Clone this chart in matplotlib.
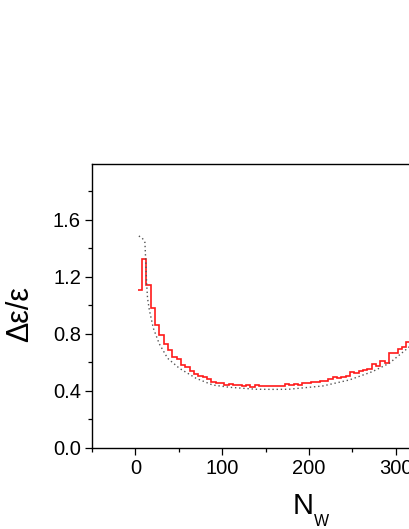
import numpy as np
import matplotlib
matplotlib.use("Agg")
import matplotlib.pyplot as plt
from matplotlib.ticker import MultipleLocator, FormatStrFormatter

plt.rcParams['font.family'] = ['Liberation Sans', 'DejaVu Sans']

# histogram (red step) — bin centers and values
bin_centers = [5, 10, 15, 20, 25, 30, 35, 40, 45, 50, 55, 60, 65, 70, 75, 80,
               85, 90, 95, 100, 105, 110, 115, 120, 125, 130, 135, 140, 145,
               150, 155, 160, 165, 170, 175, 180, 185, 190, 195, 200, 205, 210,
               215, 220, 225, 230, 235, 240, 245, 250, 255, 260, 265, 270, 275,
               280, 285, 290, 295, 300, 305, 310, 315, 320]
hist_vals = [1.107, 1.324, 1.142, 0.978, 0.859, 0.79, 0.73, 0.686, 0.634, 0.62,
             0.58, 0.564, 0.54, 0.517, 0.505, 0.498, 0.482, 0.461, 0.456, 0.452,
             0.44, 0.447, 0.438, 0.442, 0.435, 0.442, 0.424, 0.44, 0.436, 0.436,
             0.433, 0.433, 0.433, 0.436, 0.445, 0.44, 0.445, 0.44, 0.452, 0.455,
             0.463, 0.458, 0.468, 0.47, 0.485, 0.494, 0.49, 0.495, 0.50, 0.529,
             0.525, 0.535, 0.545, 0.55, 0.587, 0.575, 0.61, 0.595, 0.667, 0.665,
             0.69, 0.709, 0.744, 0.75]
bin_width = 5

# theoretical curve (dotted)
curve_x = [4, 8, 11, 12, 13, 14, 16.1, 20.7, 27.6, 37.2, 50.7, 69.9, 89, 108,
           139, 160, 177, 216, 246.5, 273, 292.6, 313.7, 330]
curve_y = [1.485, 1.47, 1.44, 1.30, 1.15, 1.05, 0.966, 0.838, 0.728, 0.627,
           0.557, 0.487, 0.44, 0.424, 0.41, 0.409, 0.41, 0.433, 0.475, 0.533,
           0.592, 0.697, 0.78]

fig = plt.figure(figsize=(4.09, 5.29), dpi=100)
ax = fig.add_axes([92/409, 1 - 447.7/529, 347/409, (447.7 - 164)/529])

edges = np.concatenate([np.array(bin_centers) - bin_width/2,
                        [bin_centers[-1] + bin_width/2]])
ax.stairs(hist_vals, edges, color='#ff1a1a', lw=1.2, baseline=None)
ax.plot(curve_x, curve_y, color='#555555', lw=1.0, ls=(0, (1, 2)))

ax.set_xlim(-50, 350)
ax.set_ylim(0, 1.99)
ax.xaxis.set_major_locator(MultipleLocator(100))
ax.xaxis.set_minor_locator(MultipleLocator(50))
ax.yaxis.set_major_locator(MultipleLocator(0.4))
ax.yaxis.set_minor_locator(MultipleLocator(0.2))
ax.yaxis.set_major_formatter(FormatStrFormatter('%.1f'))
ax.tick_params(which='both', direction='out', labelsize=14.5, top=False, right=False, width=0.9)
ax.tick_params(which='major', length=5, pad=3)
ax.tick_params(which='minor', length=3)
for s in ax.spines.values():
    s.set_linewidth(1.0)

fig.text(20.5/409, 1 - 314/529, 'Δε/ε', rotation=90, ha='center', va='center', fontsize=22)
fig.text(303/409, 1 - 514.3/529, 'N', ha='center', va='baseline', fontsize=21)
fig.text(313.5/409, 1 - 526.5/529, 'W', ha='left', va='baseline', fontsize=11.5)

fig.savefig('out.png', dpi=100)
